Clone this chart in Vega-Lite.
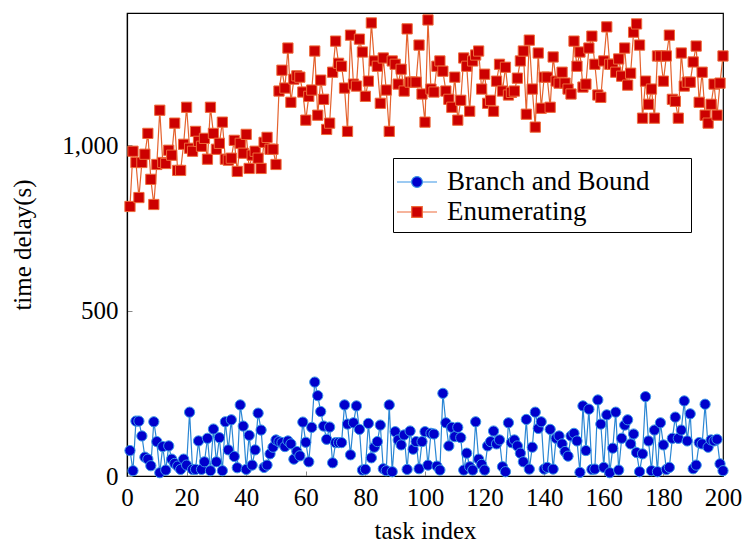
{
 "$schema": "https://vega.github.io/schema/vega-lite/v6.json",
 "width": 596, "height": 463,
 "autosize": {"type": "none"},
 "padding": {"left": 127, "top": 13, "right": 21, "bottom": 68},
 "background": "white",
 "config": {
  "view": {"stroke": "black", "strokeWidth": 1.2},
  "font": "Liberation Serif",
  "axis": {"labelFont": "Liberation Serif", "labelFontSize": 25, "labelColor": "black", "titleFont": "Liberation Serif", "titleFontSize": 25, "titleFontWeight": "normal", "titleColor": "black", "domainColor": "black", "domainWidth": 1.2, "tickColor": "#888888", "grid": false, "labelFlush": false},
  "legend": {"labelFont": "Liberation Serif", "labelFontSize": 27, "labelColor": "black", "labelLimit": 0, "symbolSize": 1024, "symbolStrokeWidth": 1.2, "rowPadding": 0, "labelOffset": 13, "padding": 7, "strokeColor": "black", "fillColor": "white"}
 },
 "data": {"values": [
{"task":1,"method":"Branch and Bound","delay":77},{"task":2,"method":"Branch and Bound","delay":16},{"task":3,"method":"Branch and Bound","delay":166},{"task":4,"method":"Branch and Bound","delay":166},{"task":5,"method":"Branch and Bound","delay":121},{"task":6,"method":"Branch and Bound","delay":57},{"task":7,"method":"Branch and Bound","delay":51},{"task":8,"method":"Branch and Bound","delay":31},{"task":9,"method":"Branch and Bound","delay":164},{"task":10,"method":"Branch and Bound","delay":104},
{"task":11,"method":"Branch and Bound","delay":10},{"task":12,"method":"Branch and Bound","delay":89},{"task":13,"method":"Branch and Bound","delay":18},{"task":14,"method":"Branch and Bound","delay":91},{"task":15,"method":"Branch and Bound","delay":51},{"task":16,"method":"Branch and Bound","delay":38},{"task":17,"method":"Branch and Bound","delay":30},{"task":18,"method":"Branch and Bound","delay":20},{"task":19,"method":"Branch and Bound","delay":51},{"task":20,"method":"Branch and Bound","delay":33},
{"task":21,"method":"Branch and Bound","delay":193},{"task":22,"method":"Branch and Bound","delay":20},{"task":23,"method":"Branch and Bound","delay":20},{"task":24,"method":"Branch and Bound","delay":106},{"task":25,"method":"Branch and Bound","delay":20},{"task":26,"method":"Branch and Bound","delay":43},{"task":27,"method":"Branch and Bound","delay":114},{"task":28,"method":"Branch and Bound","delay":16},{"task":29,"method":"Branch and Bound","delay":142},{"task":30,"method":"Branch and Bound","delay":43},
{"task":31,"method":"Branch and Bound","delay":116},{"task":32,"method":"Branch and Bound","delay":16},{"task":33,"method":"Branch and Bound","delay":164},{"task":34,"method":"Branch and Bound","delay":79},{"task":35,"method":"Branch and Bound","delay":170},{"task":36,"method":"Branch and Bound","delay":59},{"task":37,"method":"Branch and Bound","delay":25},{"task":38,"method":"Branch and Bound","delay":215},{"task":39,"method":"Branch and Bound","delay":151},{"task":40,"method":"Branch and Bound","delay":20},
{"task":41,"method":"Branch and Bound","delay":123},{"task":42,"method":"Branch and Bound","delay":33},{"task":43,"method":"Branch and Bound","delay":79},{"task":44,"method":"Branch and Bound","delay":190},{"task":45,"method":"Branch and Bound","delay":139},{"task":46,"method":"Branch and Bound","delay":26},{"task":47,"method":"Branch and Bound","delay":33},{"task":48,"method":"Branch and Bound","delay":67},{"task":49,"method":"Branch and Bound","delay":87},{"task":50,"method":"Branch and Bound","delay":109},
{"task":51,"method":"Branch and Bound","delay":104},{"task":52,"method":"Branch and Bound","delay":101},{"task":53,"method":"Branch and Bound","delay":89},{"task":54,"method":"Branch and Bound","delay":106},{"task":55,"method":"Branch and Bound","delay":97},{"task":56,"method":"Branch and Bound","delay":51},{"task":57,"method":"Branch and Bound","delay":74},{"task":58,"method":"Branch and Bound","delay":61},{"task":59,"method":"Branch and Bound","delay":163},{"task":60,"method":"Branch and Bound","delay":102},
{"task":61,"method":"Branch and Bound","delay":43},{"task":62,"method":"Branch and Bound","delay":147},{"task":63,"method":"Branch and Bound","delay":284},{"task":64,"method":"Branch and Bound","delay":243},{"task":65,"method":"Branch and Bound","delay":195},{"task":66,"method":"Branch and Bound","delay":151},{"task":67,"method":"Branch and Bound","delay":111},{"task":68,"method":"Branch and Bound","delay":148},{"task":69,"method":"Branch and Bound","delay":40},{"task":70,"method":"Branch and Bound","delay":101},
{"task":71,"method":"Branch and Bound","delay":101},{"task":72,"method":"Branch and Bound","delay":101},{"task":73,"method":"Branch and Bound","delay":215},{"task":74,"method":"Branch and Bound","delay":157},{"task":75,"method":"Branch and Bound","delay":64},{"task":76,"method":"Branch and Bound","delay":161},{"task":77,"method":"Branch and Bound","delay":212},{"task":78,"method":"Branch and Bound","delay":141},{"task":79,"method":"Branch and Bound","delay":18},{"task":80,"method":"Branch and Bound","delay":20},
{"task":81,"method":"Branch and Bound","delay":159},{"task":82,"method":"Branch and Bound","delay":55},{"task":83,"method":"Branch and Bound","delay":87},{"task":84,"method":"Branch and Bound","delay":104},{"task":85,"method":"Branch and Bound","delay":154},{"task":86,"method":"Branch and Bound","delay":22},{"task":87,"method":"Branch and Bound","delay":16},{"task":88,"method":"Branch and Bound","delay":215},{"task":89,"method":"Branch and Bound","delay":13},{"task":90,"method":"Branch and Bound","delay":134},
{"task":91,"method":"Branch and Bound","delay":109},{"task":92,"method":"Branch and Bound","delay":94},{"task":93,"method":"Branch and Bound","delay":124},{"task":94,"method":"Branch and Bound","delay":20},{"task":95,"method":"Branch and Bound","delay":136},{"task":96,"method":"Branch and Bound","delay":81},{"task":97,"method":"Branch and Bound","delay":104},{"task":98,"method":"Branch and Bound","delay":22},{"task":99,"method":"Branch and Bound","delay":104},{"task":100,"method":"Branch and Bound","delay":134},
{"task":101,"method":"Branch and Bound","delay":33},{"task":102,"method":"Branch and Bound","delay":129},{"task":103,"method":"Branch and Bound","delay":127},{"task":104,"method":"Branch and Bound","delay":30},{"task":105,"method":"Branch and Bound","delay":18},{"task":106,"method":"Branch and Bound","delay":250},{"task":107,"method":"Branch and Bound","delay":161},{"task":108,"method":"Branch and Bound","delay":91},{"task":109,"method":"Branch and Bound","delay":147},{"task":110,"method":"Branch and Bound","delay":119},
{"task":111,"method":"Branch and Bound","delay":147},{"task":112,"method":"Branch and Bound","delay":116},{"task":113,"method":"Branch and Bound","delay":18},{"task":114,"method":"Branch and Bound","delay":69},{"task":115,"method":"Branch and Bound","delay":28},{"task":116,"method":"Branch and Bound","delay":18},{"task":117,"method":"Branch and Bound","delay":164},{"task":118,"method":"Branch and Bound","delay":51},{"task":119,"method":"Branch and Bound","delay":35},{"task":120,"method":"Branch and Bound","delay":18},
{"task":121,"method":"Branch and Bound","delay":91},{"task":122,"method":"Branch and Bound","delay":104},{"task":123,"method":"Branch and Bound","delay":136},{"task":124,"method":"Branch and Bound","delay":97},{"task":125,"method":"Branch and Bound","delay":109},{"task":126,"method":"Branch and Bound","delay":28},{"task":127,"method":"Branch and Bound","delay":13},{"task":128,"method":"Branch and Bound","delay":161},{"task":129,"method":"Branch and Bound","delay":101},{"task":130,"method":"Branch and Bound","delay":109},
{"task":131,"method":"Branch and Bound","delay":91},{"task":132,"method":"Branch and Bound","delay":69},{"task":133,"method":"Branch and Bound","delay":43},{"task":134,"method":"Branch and Bound","delay":171},{"task":135,"method":"Branch and Bound","delay":21},{"task":136,"method":"Branch and Bound","delay":87},{"task":137,"method":"Branch and Bound","delay":193},{"task":138,"method":"Branch and Bound","delay":144},{"task":139,"method":"Branch and Bound","delay":164},{"task":140,"method":"Branch and Bound","delay":21},
{"task":141,"method":"Branch and Bound","delay":26},{"task":142,"method":"Branch and Bound","delay":141},{"task":143,"method":"Branch and Bound","delay":21},{"task":144,"method":"Branch and Bound","delay":114},{"task":145,"method":"Branch and Bound","delay":121},{"task":146,"method":"Branch and Bound","delay":97},{"task":147,"method":"Branch and Bound","delay":74},{"task":148,"method":"Branch and Bound","delay":60},{"task":149,"method":"Branch and Bound","delay":121},{"task":150,"method":"Branch and Bound","delay":129},
{"task":151,"method":"Branch and Bound","delay":106},{"task":152,"method":"Branch and Bound","delay":11},{"task":153,"method":"Branch and Bound","delay":212},{"task":154,"method":"Branch and Bound","delay":77},{"task":155,"method":"Branch and Bound","delay":202},{"task":156,"method":"Branch and Bound","delay":20},{"task":157,"method":"Branch and Bound","delay":21},{"task":158,"method":"Branch and Bound","delay":230},{"task":159,"method":"Branch and Bound","delay":157},{"task":160,"method":"Branch and Bound","delay":26},
{"task":161,"method":"Branch and Bound","delay":185},{"task":162,"method":"Branch and Bound","delay":10},{"task":163,"method":"Branch and Bound","delay":84},{"task":164,"method":"Branch and Bound","delay":193},{"task":165,"method":"Branch and Bound","delay":18},{"task":166,"method":"Branch and Bound","delay":114},{"task":167,"method":"Branch and Bound","delay":154},{"task":168,"method":"Branch and Bound","delay":170},{"task":169,"method":"Branch and Bound","delay":97},{"task":170,"method":"Branch and Bound","delay":127},
{"task":171,"method":"Branch and Bound","delay":71},{"task":172,"method":"Branch and Bound","delay":13},{"task":173,"method":"Branch and Bound","delay":67},{"task":174,"method":"Branch and Bound","delay":240},{"task":175,"method":"Branch and Bound","delay":106},{"task":176,"method":"Branch and Bound","delay":16},{"task":177,"method":"Branch and Bound","delay":139},{"task":178,"method":"Branch and Bound","delay":13},{"task":179,"method":"Branch and Bound","delay":161},{"task":180,"method":"Branch and Bound","delay":94},
{"task":181,"method":"Branch and Bound","delay":20},{"task":182,"method":"Branch and Bound","delay":26},{"task":183,"method":"Branch and Bound","delay":114},{"task":184,"method":"Branch and Bound","delay":178},{"task":185,"method":"Branch and Bound","delay":114},{"task":186,"method":"Branch and Bound","delay":139},{"task":187,"method":"Branch and Bound","delay":227},{"task":188,"method":"Branch and Bound","delay":106},{"task":189,"method":"Branch and Bound","delay":188},{"task":190,"method":"Branch and Bound","delay":22},
{"task":191,"method":"Branch and Bound","delay":33},{"task":192,"method":"Branch and Bound","delay":101},{"task":193,"method":"Branch and Bound","delay":97},{"task":194,"method":"Branch and Bound","delay":217},{"task":195,"method":"Branch and Bound","delay":87},{"task":196,"method":"Branch and Bound","delay":109},{"task":197,"method":"Branch and Bound","delay":106},{"task":198,"method":"Branch and Bound","delay":111},{"task":199,"method":"Branch and Bound","delay":37},{"task":200,"method":"Branch and Bound","delay":16},
{"task":1,"method":"Enumerating","delay":815},{"task":2,"method":"Enumerating","delay":982},{"task":3,"method":"Enumerating","delay":948},{"task":4,"method":"Enumerating","delay":842},{"task":5,"method":"Enumerating","delay":948},{"task":6,"method":"Enumerating","delay":973},{"task":7,"method":"Enumerating","delay":1036},{"task":8,"method":"Enumerating","delay":897},{"task":9,"method":"Enumerating","delay":821},{"task":10,"method":"Enumerating","delay":942},
{"task":11,"method":"Enumerating","delay":1106},{"task":12,"method":"Enumerating","delay":948},{"task":13,"method":"Enumerating","delay":945},{"task":14,"method":"Enumerating","delay":985},{"task":15,"method":"Enumerating","delay":970},{"task":16,"method":"Enumerating","delay":1067},{"task":17,"method":"Enumerating","delay":924},{"task":18,"method":"Enumerating","delay":924},{"task":19,"method":"Enumerating","delay":1003},{"task":20,"method":"Enumerating","delay":1115},
{"task":21,"method":"Enumerating","delay":991},{"task":22,"method":"Enumerating","delay":982},{"task":23,"method":"Enumerating","delay":1042},{"task":24,"method":"Enumerating","delay":1012},{"task":25,"method":"Enumerating","delay":997},{"task":26,"method":"Enumerating","delay":1021},{"task":27,"method":"Enumerating","delay":958},{"task":28,"method":"Enumerating","delay":1115},{"task":29,"method":"Enumerating","delay":1036},{"task":30,"method":"Enumerating","delay":988},
{"task":31,"method":"Enumerating","delay":1006},{"task":32,"method":"Enumerating","delay":1070},{"task":33,"method":"Enumerating","delay":958},{"task":34,"method":"Enumerating","delay":955},{"task":35,"method":"Enumerating","delay":961},{"task":36,"method":"Enumerating","delay":1015},{"task":37,"method":"Enumerating","delay":921},{"task":38,"method":"Enumerating","delay":1006},{"task":39,"method":"Enumerating","delay":976},{"task":40,"method":"Enumerating","delay":1033},
{"task":41,"method":"Enumerating","delay":930},{"task":42,"method":"Enumerating","delay":970},{"task":43,"method":"Enumerating","delay":982},{"task":44,"method":"Enumerating","delay":961},{"task":45,"method":"Enumerating","delay":930},{"task":46,"method":"Enumerating","delay":1009},{"task":47,"method":"Enumerating","delay":1024},{"task":48,"method":"Enumerating","delay":988},{"task":49,"method":"Enumerating","delay":988},{"task":50,"method":"Enumerating","delay":942},
{"task":51,"method":"Enumerating","delay":1164},{"task":52,"method":"Enumerating","delay":1227},{"task":53,"method":"Enumerating","delay":1173},{"task":54,"method":"Enumerating","delay":1294},{"task":55,"method":"Enumerating","delay":1130},{"task":56,"method":"Enumerating","delay":1200},{"task":57,"method":"Enumerating","delay":1210},{"task":58,"method":"Enumerating","delay":1206},{"task":59,"method":"Enumerating","delay":1161},{"task":60,"method":"Enumerating","delay":1076},
{"task":61,"method":"Enumerating","delay":1148},{"task":62,"method":"Enumerating","delay":1167},{"task":63,"method":"Enumerating","delay":1285},{"task":64,"method":"Enumerating","delay":1091},{"task":65,"method":"Enumerating","delay":1197},{"task":66,"method":"Enumerating","delay":1139},{"task":67,"method":"Enumerating","delay":1048},{"task":68,"method":"Enumerating","delay":1067},{"task":69,"method":"Enumerating","delay":1221},{"task":70,"method":"Enumerating","delay":1315},
{"task":71,"method":"Enumerating","delay":1248},{"task":72,"method":"Enumerating","delay":1239},{"task":73,"method":"Enumerating","delay":1173},{"task":74,"method":"Enumerating","delay":1042},{"task":75,"method":"Enumerating","delay":1333},{"task":76,"method":"Enumerating","delay":1185},{"task":77,"method":"Enumerating","delay":1179},{"task":78,"method":"Enumerating","delay":1321},{"task":79,"method":"Enumerating","delay":1282},{"task":80,"method":"Enumerating","delay":1148},
{"task":81,"method":"Enumerating","delay":1194},{"task":82,"method":"Enumerating","delay":1370},{"task":83,"method":"Enumerating","delay":1255},{"task":84,"method":"Enumerating","delay":1239},{"task":85,"method":"Enumerating","delay":1127},{"task":86,"method":"Enumerating","delay":1264},{"task":87,"method":"Enumerating","delay":1167},{"task":88,"method":"Enumerating","delay":1042},{"task":89,"method":"Enumerating","delay":1255},{"task":90,"method":"Enumerating","delay":1245},
{"task":91,"method":"Enumerating","delay":1185},{"task":92,"method":"Enumerating","delay":1230},{"task":93,"method":"Enumerating","delay":1164},{"task":94,"method":"Enumerating","delay":1352},{"task":95,"method":"Enumerating","delay":1191},{"task":96,"method":"Enumerating","delay":1191},{"task":97,"method":"Enumerating","delay":1191},{"task":98,"method":"Enumerating","delay":1303},{"task":99,"method":"Enumerating","delay":1155},{"task":100,"method":"Enumerating","delay":1070},
{"task":101,"method":"Enumerating","delay":1379},{"task":102,"method":"Enumerating","delay":1170},{"task":103,"method":"Enumerating","delay":1161},{"task":104,"method":"Enumerating","delay":1239},{"task":105,"method":"Enumerating","delay":1255},{"task":106,"method":"Enumerating","delay":1224},{"task":107,"method":"Enumerating","delay":1164},{"task":108,"method":"Enumerating","delay":1139},{"task":109,"method":"Enumerating","delay":1115},{"task":110,"method":"Enumerating","delay":1206},
{"task":111,"method":"Enumerating","delay":1076},{"task":112,"method":"Enumerating","delay":1136},{"task":113,"method":"Enumerating","delay":1264},{"task":114,"method":"Enumerating","delay":1239},{"task":115,"method":"Enumerating","delay":1103},{"task":116,"method":"Enumerating","delay":1255},{"task":117,"method":"Enumerating","delay":1273},{"task":118,"method":"Enumerating","delay":1285},{"task":119,"method":"Enumerating","delay":1170},{"task":120,"method":"Enumerating","delay":1215},
{"task":121,"method":"Enumerating","delay":1127},{"task":122,"method":"Enumerating","delay":1136},{"task":123,"method":"Enumerating","delay":1103},{"task":124,"method":"Enumerating","delay":1194},{"task":125,"method":"Enumerating","delay":1245},{"task":126,"method":"Enumerating","delay":1164},{"task":127,"method":"Enumerating","delay":1236},{"task":128,"method":"Enumerating","delay":1152},{"task":129,"method":"Enumerating","delay":1160},{"task":130,"method":"Enumerating","delay":1164},
{"task":131,"method":"Enumerating","delay":1203},{"task":132,"method":"Enumerating","delay":1255},{"task":133,"method":"Enumerating","delay":1285},{"task":134,"method":"Enumerating","delay":1094},{"task":135,"method":"Enumerating","delay":1318},{"task":136,"method":"Enumerating","delay":1170},{"task":137,"method":"Enumerating","delay":1055},{"task":138,"method":"Enumerating","delay":1279},{"task":139,"method":"Enumerating","delay":1112},{"task":140,"method":"Enumerating","delay":1206},
{"task":141,"method":"Enumerating","delay":1206},{"task":142,"method":"Enumerating","delay":1115},{"task":143,"method":"Enumerating","delay":1267},{"task":144,"method":"Enumerating","delay":1194},{"task":145,"method":"Enumerating","delay":1188},{"task":146,"method":"Enumerating","delay":1221},{"task":147,"method":"Enumerating","delay":1188},{"task":148,"method":"Enumerating","delay":1170},{"task":149,"method":"Enumerating","delay":1155},{"task":150,"method":"Enumerating","delay":1315},
{"task":151,"method":"Enumerating","delay":1239},{"task":152,"method":"Enumerating","delay":1282},{"task":153,"method":"Enumerating","delay":1176},{"task":154,"method":"Enumerating","delay":1185},{"task":155,"method":"Enumerating","delay":1294},{"task":156,"method":"Enumerating","delay":1330},{"task":157,"method":"Enumerating","delay":1245},{"task":158,"method":"Enumerating","delay":1152},{"task":159,"method":"Enumerating","delay":1145},{"task":160,"method":"Enumerating","delay":1255},
{"task":161,"method":"Enumerating","delay":1358},{"task":162,"method":"Enumerating","delay":1245},{"task":163,"method":"Enumerating","delay":1245},{"task":164,"method":"Enumerating","delay":1221},{"task":165,"method":"Enumerating","delay":1261},{"task":166,"method":"Enumerating","delay":1209},{"task":167,"method":"Enumerating","delay":1294},{"task":168,"method":"Enumerating","delay":1182},{"task":169,"method":"Enumerating","delay":1218},{"task":170,"method":"Enumerating","delay":1342},
{"task":171,"method":"Enumerating","delay":1367},{"task":172,"method":"Enumerating","delay":1303},{"task":173,"method":"Enumerating","delay":1082},{"task":174,"method":"Enumerating","delay":1194},{"task":175,"method":"Enumerating","delay":1124},{"task":176,"method":"Enumerating","delay":1170},{"task":177,"method":"Enumerating","delay":1082},{"task":178,"method":"Enumerating","delay":1270},{"task":179,"method":"Enumerating","delay":1270},{"task":180,"method":"Enumerating","delay":1194},
{"task":181,"method":"Enumerating","delay":1270},{"task":182,"method":"Enumerating","delay":1333},{"task":183,"method":"Enumerating","delay":1139},{"task":184,"method":"Enumerating","delay":1133},{"task":185,"method":"Enumerating","delay":1082},{"task":186,"method":"Enumerating","delay":1279},{"task":187,"method":"Enumerating","delay":1179},{"task":188,"method":"Enumerating","delay":1191},{"task":189,"method":"Enumerating","delay":1191},{"task":190,"method":"Enumerating","delay":1252},
{"task":191,"method":"Enumerating","delay":1300},{"task":192,"method":"Enumerating","delay":1130},{"task":193,"method":"Enumerating","delay":1221},{"task":194,"method":"Enumerating","delay":1091},{"task":195,"method":"Enumerating","delay":1067},{"task":196,"method":"Enumerating","delay":1124},{"task":197,"method":"Enumerating","delay":1185},{"task":198,"method":"Enumerating","delay":1091},{"task":199,"method":"Enumerating","delay":1188},{"task":200,"method":"Enumerating","delay":1270}
 ]},
 "encoding": {
  "x": {"field": "task", "type": "quantitative", "scale": {"domain": [0, 200], "nice": false, "zero": false},
        "axis": {"values": [0,20,40,60,80,100,120,140,160,180,200], "title": "task index", "tickSize": -5, "labelPadding": 14, "titlePadding": 8, "labelOverlap": false}},
  "y": {"field": "delay", "type": "quantitative", "scale": {"domain": [0, 1400], "nice": false},
        "axis": {"values": [0, 500, 1000], "format": ",d", "title": "time delay(s)", "tickSize": -5, "labelPadding": 14, "titlePadding": 26}}
 },
 "layer": [
  {"mark": {"type": "line", "strokeWidth": 1.2},
   "encoding": {"color": {"field": "method", "type": "nominal", "scale": {"domain": ["Enumerating", "Branch and Bound"], "range": ["#e4622e", "#2a86d4"]}, "legend": null}}},
  {"mark": {"type": "point", "filled": true, "size": 105, "strokeWidth": 1, "opacity": 1},
   "encoding": {
    "fill": {"field": "method", "type": "nominal", "scale": {"domain": ["Branch and Bound", "Enumerating"], "range": ["#0000cc", "#cc0000"]}, "legend": null},
    "stroke": {"field": "method", "type": "nominal", "scale": {"domain": ["Branch and Bound", "Enumerating"], "range": ["#3a96e6", "#ee6a3a"]}, "legend": null},
    "shape": {"field": "method", "type": "nominal", "scale": {"domain": ["Branch and Bound", "Enumerating"], "range": ["circle", "square"]}, "legend": null}
   }},
  {"transform": [{"filter": "false"}],
   "mark": {"type": "point", "filled": true, "strokeWidth": 1.2, "opacity": 1},
   "encoding": {
    "fill": {"field": "method", "type": "nominal", "scale": {"domain": ["Branch and Bound", "Enumerating"], "range": ["#0000cc", "#cc0000"]},
             "legend": {"title": null, "orient": "none", "legendX": 266, "legendY": 145,
                        "labelExpr": "datum.label + '\u00a0\u00a0\u00a0\u00a0\u00a0\u200b'"}},
    "stroke": {"field": "method", "type": "nominal", "scale": {"domain": ["Branch and Bound", "Enumerating"], "range": ["#3a96e6", "#ee6a3a"]}},
    "shape": {"field": "method", "type": "nominal", "scale": {"domain": ["Branch and Bound", "Enumerating"], "range": ["M-1.25,0H-0.34M0.34,0H1.25M-0.34,0A0.34,0.34,0,1,0,0.34,0A0.34,0.34,0,1,0,-0.34,0Z", "M-1.25,0H-0.33M0.33,0H1.25M-0.33,-0.33H0.33V0.33H-0.33Z"]}}
   }}
 ],
 "resolve": {"scale": {"fill": "independent", "stroke": "independent", "shape": "independent"},
             "legend": {"fill": "independent", "stroke": "independent", "shape": "independent"}}
}
